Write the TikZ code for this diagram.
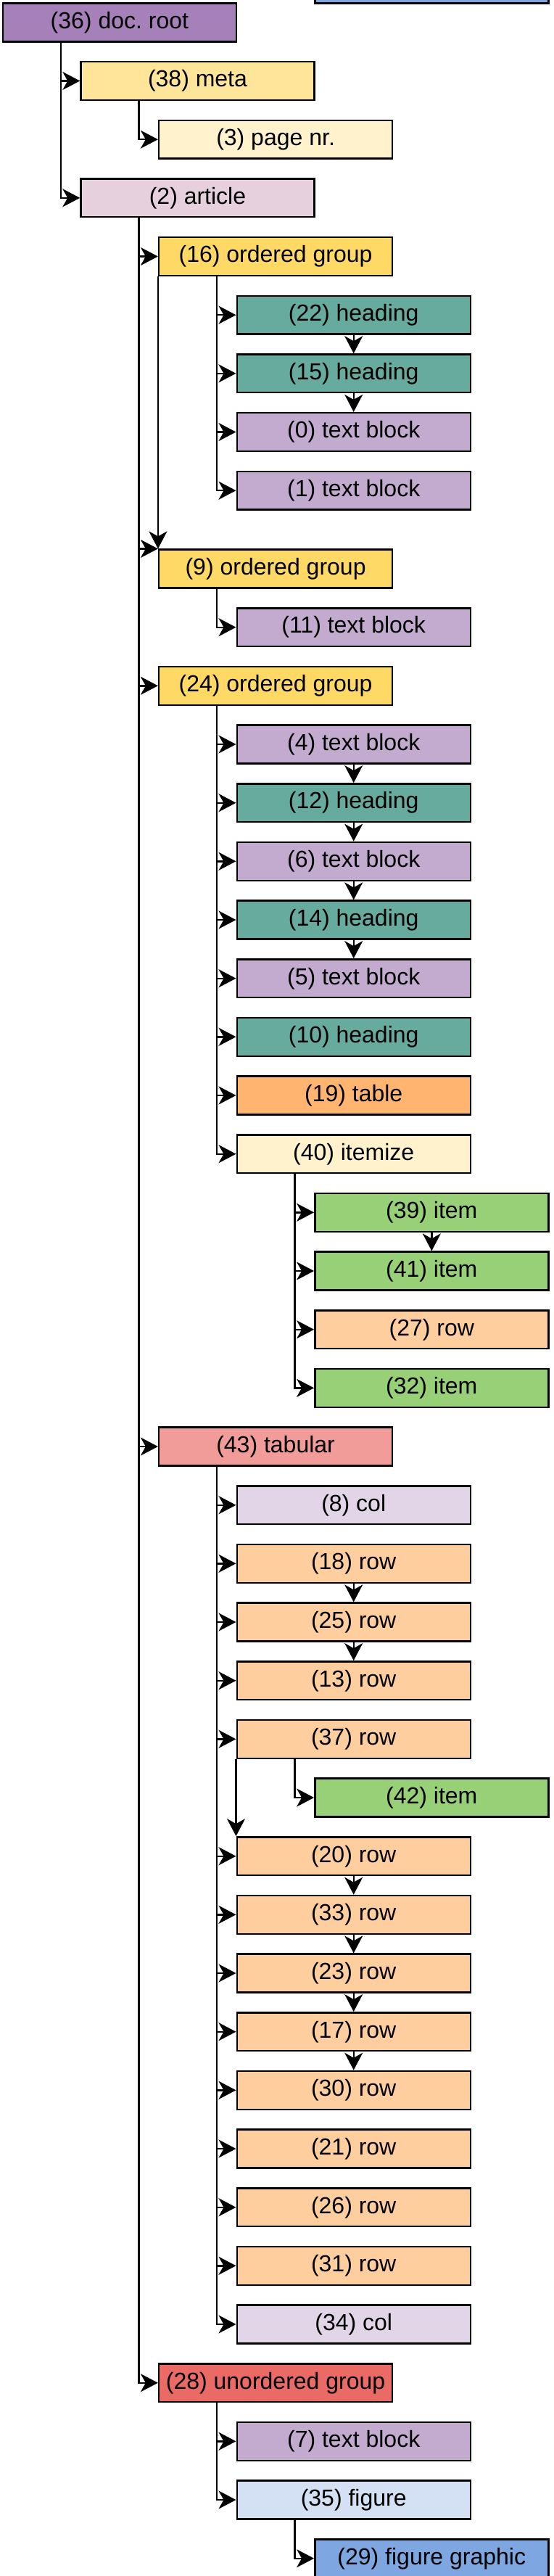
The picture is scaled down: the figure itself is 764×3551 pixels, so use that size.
\documentclass[tikz,border=0pt]{standalone}
\usepackage{fontspec}
\setmainfont{Liberation Sans}
\usetikzlibrary{arrows.meta}

% fills of the node kinds
\definecolor{rootfill}{HTML}{A680B8}
\definecolor{metafill}{HTML}{FFE599}
\definecolor{pagefill}{HTML}{FFF2CC}
\definecolor{articlefill}{HTML}{E6D0DE}
\definecolor{groupfill}{HTML}{FFD966}
\definecolor{headfill}{HTML}{67AB9F}
\definecolor{textfill}{HTML}{C3ABD0}
\definecolor{tablefill}{HTML}{FFB570}
\definecolor{itemizefill}{HTML}{FFF2CC}
\definecolor{itemfill}{HTML}{97D077}
\definecolor{rowfill}{HTML}{FFCE9F}
\definecolor{tabularfill}{HTML}{F19C99}
\definecolor{colfill}{HTML}{E1D5E7}
\definecolor{ugroupfill}{HTML}{EA6B66}
\definecolor{figfill}{HTML}{D4E1F5}
\definecolor{graphicfill}{HTML}{7EA6E0}

\tikzset{
  box/.style={draw=black, line width=1.2pt, minimum width=161pt, minimum height=26.4pt,
    inner sep=0pt, font=\fontsize{16}{19}\selectfont},
  arr/.style={line width=1.2pt, -{Stealth[length=12pt,width=12.5pt,inset=3.5pt]}},
}

\begin{document}
\begin{tikzpicture}[x=0.5pt, y=-0.5pt]
\useasboundingbox (0,0) rectangle (764,3551);

% box cut off at the top
\node[box, fill=graphicfill] (prevbox) at (595.3,-22) {};

% root and meta
\node[box, fill=rootfill] (root) at (164.9,31) {(36) doc.\ root};
\node[box, fill=metafill] (meta) at (272.5,111.5) {(38) meta};
\node[box, fill=pagefill] (page) at (380.1,192.2) {(3) page nr.};
\node[box, fill=articlefill] (article) at (272.5,272.8) {(2) article};

% first ordered group
\node[box, fill=groupfill] (og16) at (380.1,353.5) {(16) ordered group};
\node[box, fill=headfill] (h22) at (487.7,434.2) {(22) heading};
\node[box, fill=headfill] (h15) at (487.7,514.8) {(15) heading};
\node[box, fill=textfill] (t0) at (487.7,595.5) {(0) text block};
\node[box, fill=textfill] (t1) at (487.7,676.2) {(1) text block};

% second ordered group
\node[box, fill=groupfill] (og9) at (380.1,784) {(9) ordered group};
\node[box, fill=textfill] (t11) at (487.7,864.7) {(11) text block};

% third ordered group
\node[box, fill=groupfill] (og24) at (380.1,945.3) {(24) ordered group};
\node[box, fill=textfill] (t4) at (487.7,1026) {(4) text block};
\node[box, fill=headfill] (h12) at (487.7,1106.7) {(12) heading};
\node[box, fill=textfill] (t6) at (487.7,1187.3) {(6) text block};
\node[box, fill=headfill] (h14) at (487.7,1268) {(14) heading};
\node[box, fill=textfill] (t5) at (487.7,1348.7) {(5) text block};
\node[box, fill=headfill] (h10) at (487.7,1429.3) {(10) heading};
\node[box, fill=tablefill] (tab19) at (487.7,1510) {(19) table};
\node[box, fill=itemizefill] (iz40) at (487.7,1590.7) {(40) itemize};
\node[box, fill=itemfill] (i39) at (595.3,1671.3) {(39) item};
\node[box, fill=itemfill] (i41) at (595.3,1752) {(41) item};
\node[box, fill=rowfill] (r27) at (595.3,1832.7) {(27) row};
\node[box, fill=itemfill] (i32) at (595.3,1913.3) {(32) item};

% tabular
\node[box, fill=tabularfill] (tb43) at (380.1,1994) {(43) tabular};
\node[box, fill=colfill] (c8) at (487.7,2074.7) {(8) col};
\node[box, fill=rowfill] (r18) at (487.7,2155.3) {(18) row};
\node[box, fill=rowfill] (r25) at (487.7,2236) {(25) row};
\node[box, fill=rowfill] (r13) at (487.7,2316.7) {(13) row};
\node[box, fill=rowfill] (r37) at (487.7,2397.3) {(37) row};
\node[box, fill=itemfill] (i42) at (595.3,2478) {(42) item};
\node[box, fill=rowfill] (r20) at (487.7,2558.7) {(20) row};
\node[box, fill=rowfill] (r33) at (487.7,2639.3) {(33) row};
\node[box, fill=rowfill] (r23) at (487.7,2720) {(23) row};
\node[box, fill=rowfill] (r17) at (487.7,2800.7) {(17) row};
\node[box, fill=rowfill] (r30) at (487.7,2881.3) {(30) row};
\node[box, fill=rowfill] (r21) at (487.7,2962) {(21) row};
\node[box, fill=rowfill] (r26) at (487.7,3042.7) {(26) row};
\node[box, fill=rowfill] (r31) at (487.7,3123.3) {(31) row};
\node[box, fill=colfill] (c34) at (487.7,3204) {(34) col};

% unordered group
\node[box, fill=ugroupfill] (ug28) at (380.1,3284.7) {(28) unordered group};
\node[box, fill=textfill] (t7) at (487.7,3365.3) {(7) text block};
\node[box, fill=figfill] (f35) at (487.7,3446) {(35) figure};
\node[box, fill=graphicfill] (g29) at (595.3,3526.7) {(29) figure graphic};

% parent to child
\draw[arr] ([xshift=40.5pt]root.south west) |- (meta.west);
\draw[arr] ([xshift=40.5pt]root.south west) |- (article.west);
\draw[arr] ([xshift=40.5pt]meta.south west) |- (page.west);
\draw[arr] ([xshift=40.5pt]article.south west) |- (og16.west);
\draw[arr] ([xshift=40.5pt]article.south west) |- (og9.north west);
\draw[arr] ([xshift=40.5pt]article.south west) |- (og24.west);
\draw[arr] ([xshift=40.5pt]article.south west) |- (tb43.west);
\draw[arr] ([xshift=40.5pt]article.south west) |- (ug28.west);
\draw[arr] ([xshift=40.5pt]og16.south west) |- (h22.west);
\draw[arr] ([xshift=40.5pt]og16.south west) |- (h15.west);
\draw[arr] ([xshift=40.5pt]og16.south west) |- (t0.west);
\draw[arr] ([xshift=40.5pt]og16.south west) |- (t1.west);
\draw[arr] ([xshift=40.5pt]og9.south west) |- (t11.west);
\draw[arr] ([xshift=40.5pt]og24.south west) |- (t4.west);
\draw[arr] ([xshift=40.5pt]og24.south west) |- (h12.west);
\draw[arr] ([xshift=40.5pt]og24.south west) |- (t6.west);
\draw[arr] ([xshift=40.5pt]og24.south west) |- (h14.west);
\draw[arr] ([xshift=40.5pt]og24.south west) |- (t5.west);
\draw[arr] ([xshift=40.5pt]og24.south west) |- (h10.west);
\draw[arr] ([xshift=40.5pt]og24.south west) |- (tab19.west);
\draw[arr] ([xshift=40.5pt]og24.south west) |- (iz40.west);
\draw[arr] ([xshift=40.5pt]iz40.south west) |- (i39.west);
\draw[arr] ([xshift=40.5pt]iz40.south west) |- (i41.west);
\draw[arr] ([xshift=40.5pt]iz40.south west) |- (r27.west);
\draw[arr] ([xshift=40.5pt]iz40.south west) |- (i32.west);
\draw[arr] ([xshift=40.5pt]tb43.south west) |- (c8.west);
\draw[arr] ([xshift=40.5pt]tb43.south west) |- (r18.west);
\draw[arr] ([xshift=40.5pt]tb43.south west) |- (r25.west);
\draw[arr] ([xshift=40.5pt]tb43.south west) |- (r13.west);
\draw[arr] ([xshift=40.5pt]tb43.south west) |- (r37.west);
\draw[arr] ([xshift=40.5pt]tb43.south west) |- (r20.west);
\draw[arr] ([xshift=40.5pt]tb43.south west) |- (r33.west);
\draw[arr] ([xshift=40.5pt]tb43.south west) |- (r23.west);
\draw[arr] ([xshift=40.5pt]tb43.south west) |- (r17.west);
\draw[arr] ([xshift=40.5pt]tb43.south west) |- (r30.west);
\draw[arr] ([xshift=40.5pt]tb43.south west) |- (r21.west);
\draw[arr] ([xshift=40.5pt]tb43.south west) |- (r26.west);
\draw[arr] ([xshift=40.5pt]tb43.south west) |- (r31.west);
\draw[arr] ([xshift=40.5pt]tb43.south west) |- (c34.west);
\draw[arr] ([xshift=40.5pt]r37.south west) |- (i42.west);
\draw[arr] ([xshift=40.5pt]ug28.south west) |- (t7.west);
\draw[arr] ([xshift=40.5pt]ug28.south west) |- (f35.west);
\draw[arr] ([xshift=40.5pt]f35.south west) |- (g29.west);

% reading order between siblings
\draw[arr] (h22) -- (h15);
\draw[arr] (h15) -- (t0);
\draw[arr] (og16.south west) -- (og9.north west);
\draw[arr] (t4) -- (h12);
\draw[arr] (h12) -- (t6);
\draw[arr] (t6) -- (h14);
\draw[arr] (h14) -- (t5);
\draw[arr] (i39) -- (i41);
\draw[arr] (r18) -- (r25);
\draw[arr] (r25) -- (r13);
\draw[arr] (r37.south west) -- (r20.north west);
\draw[arr] (r20) -- (r33);
\draw[arr] (r33) -- (r23);
\draw[arr] (r23) -- (r17);
\draw[arr] (r17) -- (r30);
\end{tikzpicture}
\end{document}
